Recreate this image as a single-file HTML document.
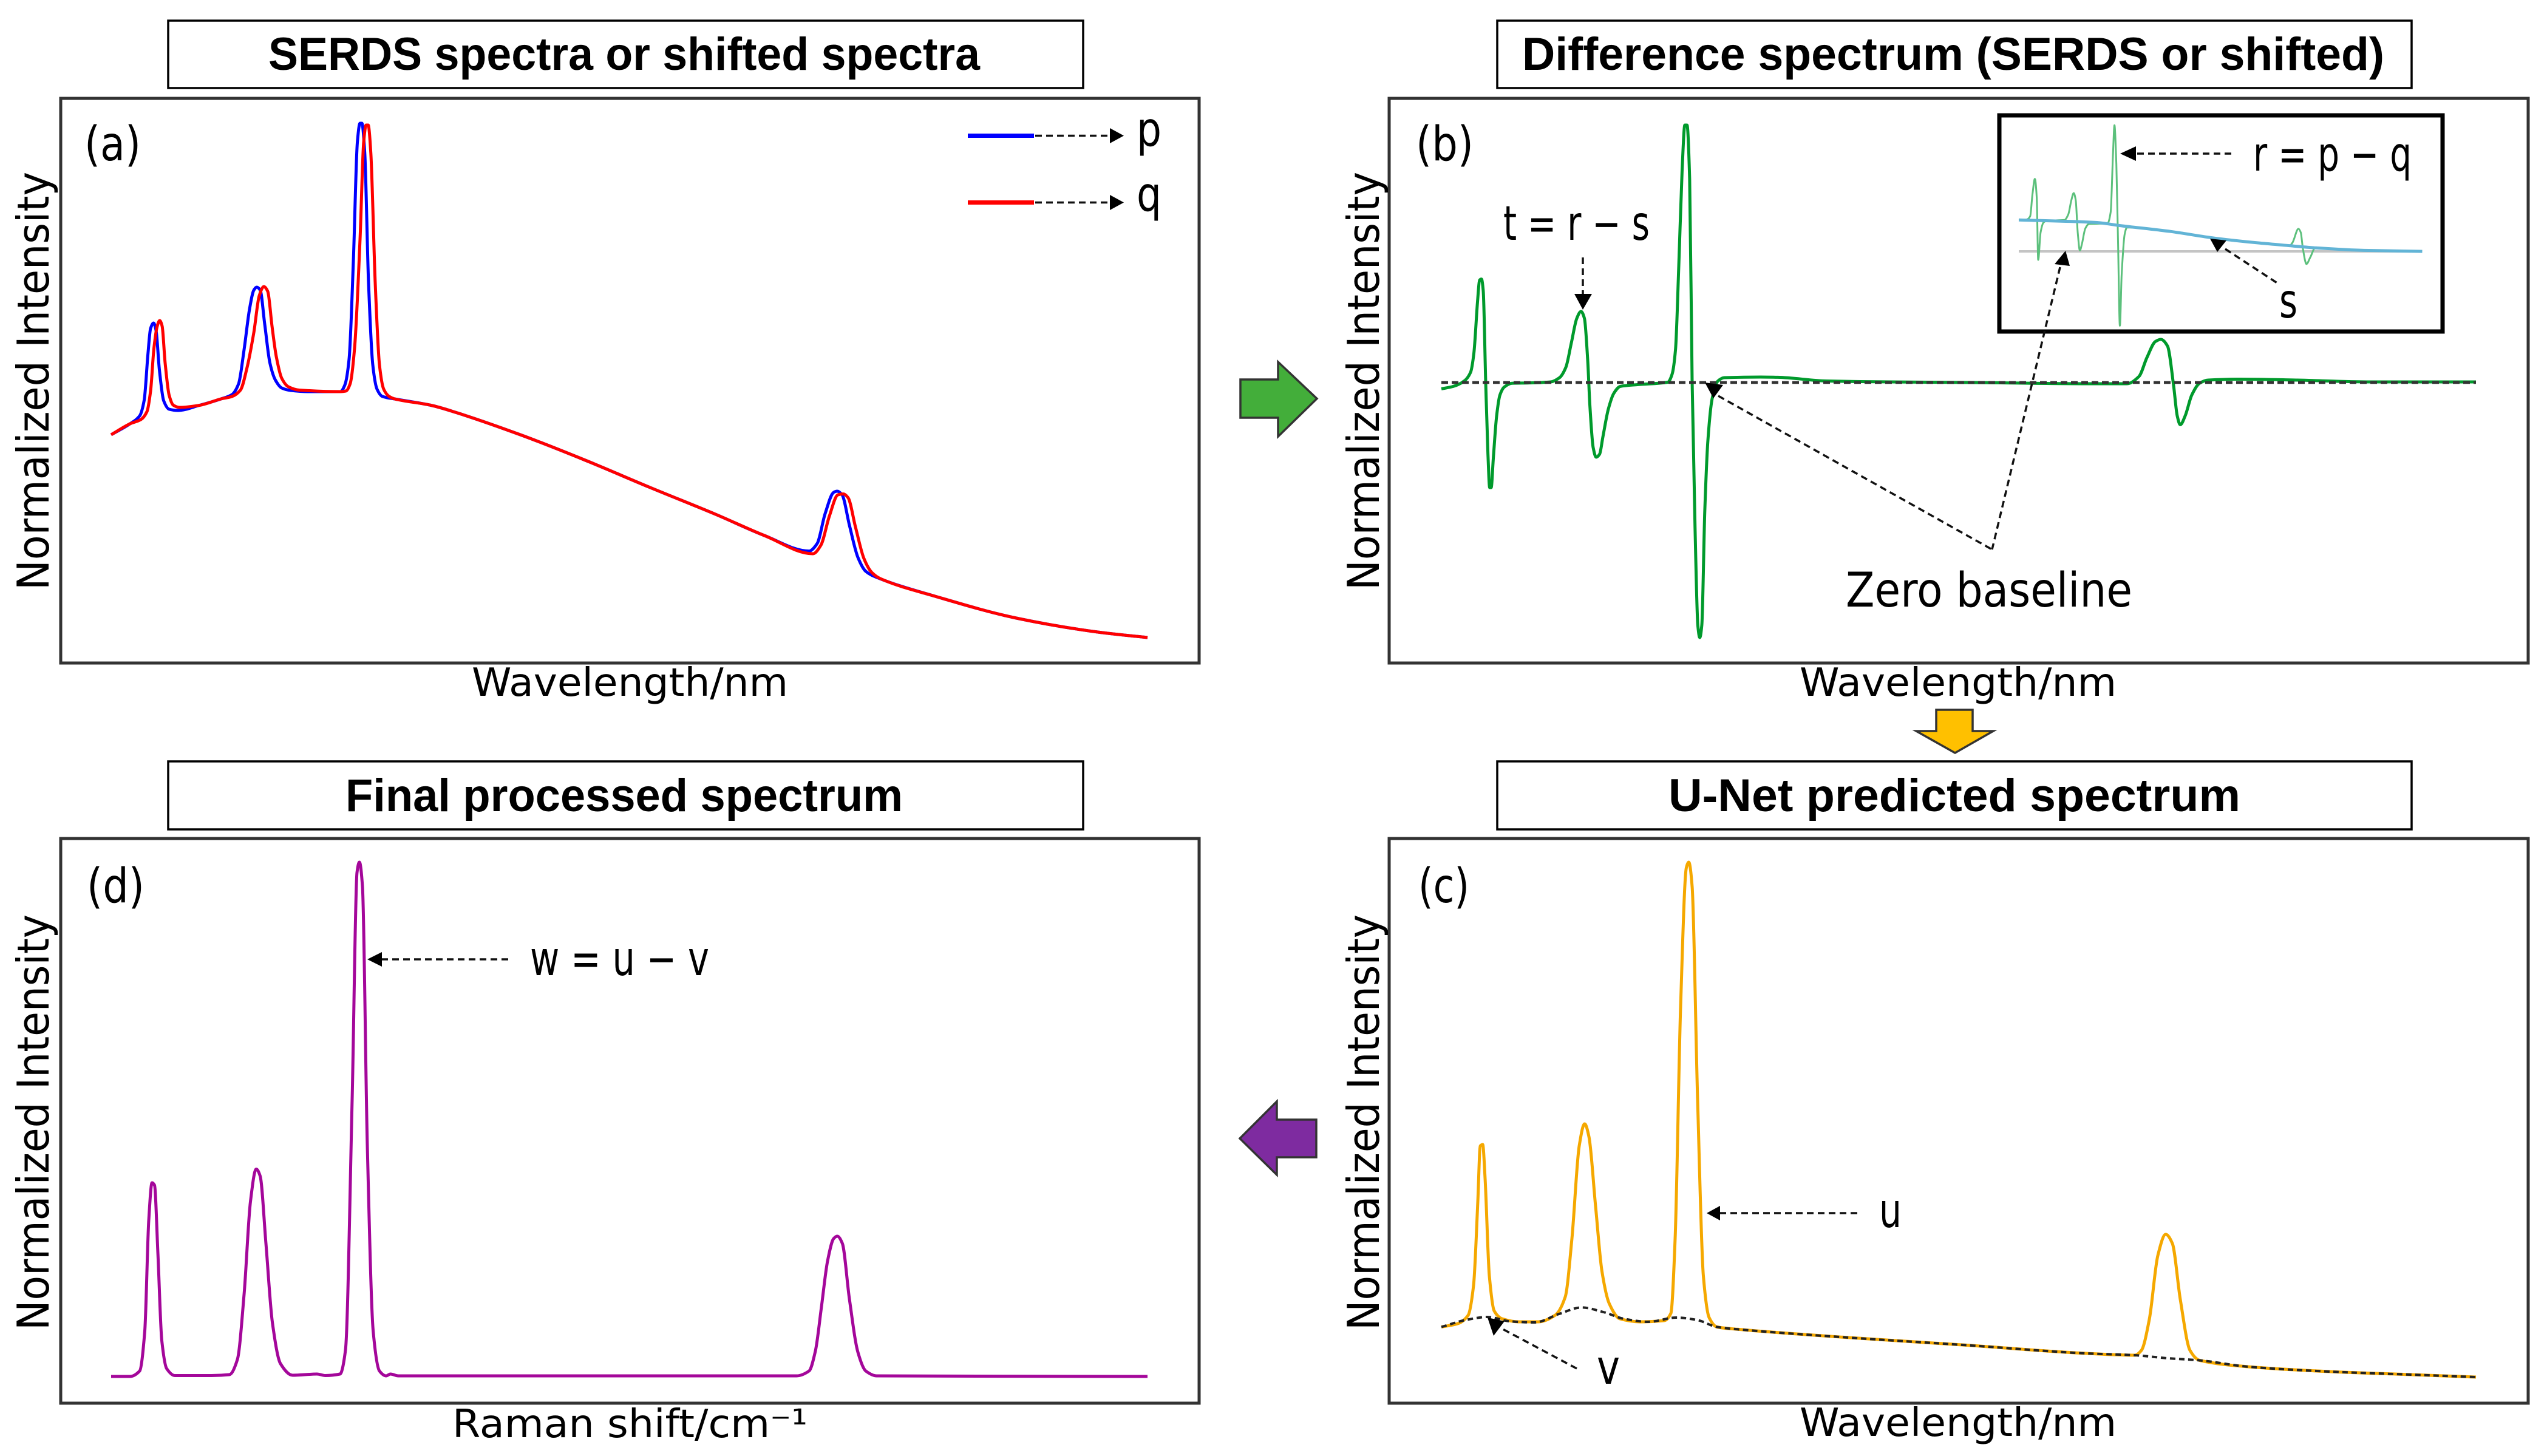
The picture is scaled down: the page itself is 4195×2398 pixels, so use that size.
<!DOCTYPE html>
<html lang="en">
<head>
<meta charset="utf-8">
<title>SERDS spectra processing pipeline</title>
<style>
html,body{margin:0;padding:0;background:#fff;}
svg{display:block;}
.title{font-family:"Liberation Sans",sans-serif;font-weight:700;font-size:76px;fill:#000;}
.lab{font-family:"DejaVu Sans","Liberation Sans",sans-serif;font-size:78px;fill:#000;}
.axis{font-family:"DejaVu Sans","Liberation Sans",sans-serif;font-size:64px;fill:#000;}
.ylab{font-family:"DejaVu Sans","Liberation Sans",sans-serif;font-size:72px;fill:#000;}
.dash{stroke:#111;stroke-width:3.5;stroke-dasharray:11 7;fill:none;}
.titlebox{fill:#fff;stroke:#000;stroke-width:3.5;}
.panel{fill:#fff;stroke:#333;stroke-width:5;}
</style>
</head>
<body>
<svg id="figure" xmlns="http://www.w3.org/2000/svg" width="4195" height="2398" viewBox="0 0 4195 2398">
  <rect x="0" y="0" width="4195" height="2398" fill="#fff"/>

  <!-- title boxes -->
  <rect class="titlebox" x="277" y="34" width="1507" height="111"/>
  <text class="title" x="442" y="115" textLength="1172" lengthAdjust="spacingAndGlyphs">SERDS spectra or shifted spectra</text>
  <rect class="titlebox" x="2466" y="34" width="1506" height="111"/>
  <text class="title" x="2507" y="115" textLength="1420" lengthAdjust="spacingAndGlyphs">Difference spectrum (SERDS or shifted)</text>
  <rect class="titlebox" x="277" y="1254" width="1507" height="112"/>
  <text class="title" x="569" y="1336" textLength="918" lengthAdjust="spacingAndGlyphs">Final processed spectrum</text>
  <rect class="titlebox" x="2466" y="1254" width="1506" height="112"/>
  <text class="title" x="2748" y="1336" textLength="942" lengthAdjust="spacingAndGlyphs">U-Net predicted spectrum</text>

  <!-- panel frames -->
  <rect class="panel" x="100" y="162" width="1875" height="930"/>
  <rect class="panel" x="2288" y="162" width="1876" height="930"/>
  <rect class="panel" x="100" y="1381" width="1875" height="930"/>
  <rect class="panel" x="2288" y="1381" width="1876" height="930"/>

  <!-- axis titles -->
  <text class="ylab" transform="translate(80,972) rotate(-90)" textLength="689" lengthAdjust="spacingAndGlyphs">Normalized Intensity</text>
  <text class="ylab" transform="translate(2271,972) rotate(-90)" textLength="689" lengthAdjust="spacingAndGlyphs">Normalized Intensity</text>
  <text class="ylab" transform="translate(80,2191) rotate(-90)" textLength="685" lengthAdjust="spacingAndGlyphs">Normalized Intensity</text>
  <text class="ylab" transform="translate(2271,2191) rotate(-90)" textLength="685" lengthAdjust="spacingAndGlyphs">Normalized Intensity</text>
  <text class="axis" x="777" y="1146" textLength="521" lengthAdjust="spacingAndGlyphs">Wavelength/nm</text>
  <text class="axis" x="2964" y="1146" textLength="522" lengthAdjust="spacingAndGlyphs">Wavelength/nm</text>
  <text class="axis" x="745" y="2367" textLength="585" lengthAdjust="spacingAndGlyphs">Raman shift/cm⁻¹</text>
  <text class="axis" x="2964" y="2365" textLength="522" lengthAdjust="spacingAndGlyphs">Wavelength/nm</text>

  <!-- panel letters -->
  <text class="lab" x="139" y="264" textLength="93" lengthAdjust="spacingAndGlyphs">(a)</text>
  <text class="lab" x="2332" y="264" textLength="95" lengthAdjust="spacingAndGlyphs">(b)</text>
  <text class="lab" x="143" y="1486" textLength="95" lengthAdjust="spacingAndGlyphs">(d)</text>
  <text class="lab" x="2336" y="1486" textLength="84" lengthAdjust="spacingAndGlyphs">(c)</text>

  <g id="marks-a"></g>
  <g id="marks-b"></g>
  <g id="marks-c"></g>
  <g id="marks-d"></g>

  <!-- panel a legend -->
  <line x1="1594" y1="223.5" x2="1703" y2="223.5" stroke="#0000ff" stroke-width="7"/>
  <line class="dash" x1="1705" y1="223.5" x2="1830" y2="223.5"/>
  <polygon points="1828,211 1851,223.5 1828,236" fill="#000"/>
  <text class="lab" x="1872" y="240" textLength="41" lengthAdjust="spacingAndGlyphs">p</text>
  <line x1="1594" y1="333.5" x2="1703" y2="333.5" stroke="#ff0000" stroke-width="7"/>
  <line class="dash" x1="1705" y1="333.5" x2="1830" y2="333.5"/>
  <polygon points="1828,321 1851,333.5 1828,346" fill="#000"/>
  <text class="lab" x="1872" y="347" textLength="41" lengthAdjust="spacingAndGlyphs">q</text>

  <!-- panel b annotations -->
  <text class="lab" x="2476" y="395" textLength="241" lengthAdjust="spacingAndGlyphs">t = r − s</text>
  <line class="dash" x1="2607" y1="424" x2="2607" y2="486"/>
  <polygon points="2593,484 2622,484 2607,510" fill="#000"/>
  <text class="lab" x="3040" y="999" textLength="472" lengthAdjust="spacingAndGlyphs">Zero baseline</text>
  <line class="dash" x1="2830" y1="652" x2="3281" y2="905"/>
  <polygon points="2808,630 2838,634 2822,656" fill="#000"/>

  <!-- inset -->
  <rect x="3293" y="190" width="730" height="356" fill="#fff" stroke="#000" stroke-width="7"/>
  <g id="marks-inset"></g>
  <text class="lab" x="3711" y="281" textLength="261" lengthAdjust="spacingAndGlyphs">r = p − q</text>
  <line class="dash" x1="3675" y1="253" x2="3516" y2="253"/>
  <polygon points="3492,253 3518,241 3518,265" fill="#000"/>
  <text class="lab" x="3754" y="523" textLength="30" lengthAdjust="spacingAndGlyphs">s</text>
  <line class="dash" x1="3665" y1="410" x2="3752" y2="467"/>
  <polygon points="3640,393 3667,396 3652,415" fill="#000"/>
  <line class="dash" x1="3393" y1="440" x2="3281" y2="905"/>
  <polygon points="3402,413 3384,435 3409,438" fill="#000"/>

  <!-- panel d annotations -->
  <text class="lab" x="873" y="1606" textLength="295" lengthAdjust="spacingAndGlyphs">w = u − v</text>
  <line class="dash" x1="837" y1="1580" x2="627" y2="1580"/>
  <polygon points="605,1580 629,1568 629,1592" fill="#000"/>

  <!-- panel c annotations -->
  <text class="lab" x="3095" y="2021" textLength="37" lengthAdjust="spacingAndGlyphs">u</text>
  <line class="dash" x1="3059" y1="1998" x2="2830" y2="1998"/>
  <polygon points="2811,1998 2833,1986 2833,2010" fill="#000"/>
  <text class="lab" x="2630" y="2279" textLength="38" lengthAdjust="spacingAndGlyphs">v</text>
  <line class="dash" x1="2597" y1="2254" x2="2462" y2="2182"/>
  <polygon points="2450,2170 2478,2176 2460,2200" fill="#000"/>

  <!-- flow arrows -->
  <polygon points="2043,625 2105,625 2105,596 2169,656.5 2105,719 2105,688 2043,688" fill="#43ae3a" stroke="#333" stroke-width="3.5"/>
  <polygon points="3189,1169 3249,1169 3249,1204 3283,1204 3220,1240 3156,1204 3189,1204" fill="#ffc000" stroke="#333" stroke-width="3.5"/>
  <polygon points="2168,1844 2103,1844 2103,1814 2042,1875 2103,1935 2103,1906 2168,1906" fill="#7e2ba0" stroke="#333" stroke-width="3.5"/>
</svg>

<script>
// Panel (a): spectra p and q (channel index vs. counts)
const pChannels = [0,31,47,54.5,60.6,65,70,74,79.5,86.6,95.6,110,145.6,181,199,210,219,228,235,240,245.6,253,261.6,270.6,281,295.6,324,377.7,385,392,399,405.6,410,413,417.7,424,431,438,447,467,527,567,674,781,888,995.5,1076,1149.5,1163,1176,1190,1196,1204,1216,1230,1243,1261,1357,1491,1625,1707];
const pCounts = [334,352,365,391,466,509,518,506,441,390,376,374,382.5,393,400,418,474,541,572,577,572,516,452,424,411,407,405,405,416,459,620,816,847,847,799,584,449,409,397,393,382.5,371,334,292,247,203,168,142.4,155,204,239,241,235,185,132,109,99,68,32,9,0];
const qChannels = [0,31,49,59,65,70.6,76,80,84,89,95.6,102.7,113,145.6,181,199,213,224,235,244,251.6,258,265,272,281,292,310,377.7,386.6,393.7,401,410,416,420,423.4,427.7,435,442,449,458,467,527,567,674,781,888,995.5,1076,1156,1169,1183,1197,1206,1214,1226,1240,1253,1267,1357,1491,1625,1707];
const qCounts = [334,352,359,372,406,477,513,522,513,452,399,382.5,379,382.5,393,397,407.5,445,502,563,578,570,513,463,427,413,407.5,405,406,418,477,656,816,844,844,799,584,449,409,397,393,382.5,371,334,292,247,203,168,138,152,200,235,236.5,230,182,130,107,97,68,32,9,0];

// Panel (b): difference spectrum t with zero baseline
const tChannels = [0,19.6,37.4,48,53.5,59.6,63,66,68.9,73,76.7,79.6,82,85.6,91,96.4,103.5,116,144.6,180,194.6,205,214,223,230,235.6,241,244.6,250,255,260.6,266,275,284,294.6,323,373,380,385.6,391,396.4,401,404.6,408.9,413,417.8,422.4,425.6,428.9,433.9,439,446,455,466,526,554,634.6,741,875,1062,1129,1149,1162,1176,1185,1196,1206,1212,1217,1225,1236,1249,1263,1316,1410,1530,1704];
const tCounts = [-10.4,-6.4,2.3,16.6,48,134,168.7,170.4,151.5,0.5,-118,-173,-173,-124,-55,-20.7,-7.5,-1.2,-0.6,1,8,25,65,105.6,117,105.6,36.7,-38,-107,-123,-118,-89.6,-43.7,-17.8,-6.4,-3.5,0.5,13.7,54,191.7,346.7,424,424,335,2,-239,-400,-420,-400,-210,-95,-26.5,2,8,9,8.6,2.5,1,0,-2,-2,10,41,67.5,71,60,-5,-55,-69.5,-55,-20.5,-1,4,5.5,4,1,1];
const zeroChannels = [0,1704];
const zeroCounts = [0,0];

// Inset of panel (b): raw difference r and estimated baseline s
const rChannels = [0,35,48,58,68,76,82,92,104.5,117,193,209,222,232,240.5,249,258,266,281,297,375,388,398,404,412,419.4,427,434.5,447,457,640,829,1018,1143.5,1156,1181,1191,1200,1215,1232,1251,1458,1704];
const rCounts = [132.5,135,148,242,306,225,-36,79.5,122,129,132.5,156,216,246,216,79.5,4,28,96.6,116,118,165,413,532.5,370,28,-313.7,-100,71,101,84,55.6,35,24,36.8,95,79.5,11,-53,-23,13,4,0];
const sChannels = [0,325,426,640,829,1018,1143.5,1257,1458,1704];
const sCounts = [132.5,122,109,84,55.6,35,24,14.5,4,0];

// Panel (c): U-Net prediction u and predicted background v
const uChannels = [0,27,44,53,60,64,68,72,79,87,100,127,160,187,204,215,227,236,243,254,264.5,276.5,294,327,367,378,385,394,403.5,407.5,413,422,431.5,441,454,487.6,661,862,1062,1142,1153,1166,1180,1193,1204,1217,1233,1249,1329,1463,1597,1704];
const uCounts = [82.5,88,101.6,151,289,380.5,383,327,166.6,109,96,91,91,101.6,132,228,380.5,417,396,281,174,121,96,91,93,105,228,610,839,848,808,457,166.6,98,82.5,78.7,65.7,52.7,39,36,44,95,200,235,220,128,44,27.5,17,9,4,0];
const vChannels = [0,40,76,113.5,153.6,194,231,267,300.6,341,387,421,454,487.6,661,862,1062,1142,1196,1249,1329,1463,1597,1704];
const vCounts = [82.5,94,99,91.7,90,104,114.6,107,96,91,98,94,82.5,78.7,65.7,52.7,39,36,31,27.5,17,9,4,0];

// Panel (d): final spectrum w
const wChannels = [0,31,47,55.4,62,67.4,71.5,77,83.5,91.5,105,165,194.7,208,219,229.5,239,245.5,255,265.6,279,299,339,353,377,386,397,405,409,414,422,431.7,442,453,460,473,1129,1149.5,1160,1170,1180,1190,1196,1204.4,1216,1230,1243,1261,1707];
const wCounts = [0,0,9,74,257,319,315,204,59,13,1.5,1.5,3,28,135,288,341.5,330,219,89,21,2,4,1.5,4,43.5,456,830,847,807,380,74,9,1,4,1,1,9,42,115,190,227,231,219,127.6,40,9,1,0];

function linearScale(d0, d1, r0, r1) {
  return function (v) { return r0 + (v - d0) * (r1 - r0) / (d1 - d0); };
}

const xA = linearScale(0, 1707, 183, 1890);
const yA = linearScale(0, 847, 1050, 203);
const xB = linearScale(0, 1707, 2374, 4081);
const yB = linearScale(-420, 424, 1050, 206);
const xC = linearScale(0, 1707, 2374, 4081);
const yC = linearScale(0, 848, 2268, 1420);
const xD = linearScale(0, 1707, 183, 1890);
const yD = linearScale(0, 847, 2267, 1420);
const xI = linearScale(0, 1707, 3325, 3990.7);
const yI = linearScale(0, 532.5, 414, 206.3);

function smoothPath(xs, ys, sx, sy) {
  const px = xs.map(sx);
  const py = ys.map(sy);
  const n = px.length;
  const d = [];
  for (let i = 0; i < n - 1; i++) {
    d.push((py[i + 1] - py[i]) / (px[i + 1] - px[i]));
  }
  const m = [d[0]];
  for (let i = 1; i < n - 1; i++) {
    m.push(d[i - 1] * d[i] <= 0 ? 0 : 2 * d[i - 1] * d[i] / (d[i - 1] + d[i]));
  }
  m.push(d[n - 2]);
  let out = 'M' + px[0].toFixed(1) + ' ' + py[0].toFixed(1);
  for (let i = 0; i < n - 1; i++) {
    const h = (px[i + 1] - px[i]) / 3;
    out += 'C' + (px[i] + h).toFixed(1) + ' ' + (py[i] + m[i] * h).toFixed(1) + ' ' +
      (px[i + 1] - h).toFixed(1) + ' ' + (py[i + 1] - m[i + 1] * h).toFixed(1) + ' ' +
      px[i + 1].toFixed(1) + ' ' + py[i + 1].toFixed(1);
  }
  return out;
}

function addLine(groupId, xs, ys, sx, sy, color, width, dash) {
  const el = document.createElementNS('http://www.w3.org/2000/svg', 'path');
  el.setAttribute('d', smoothPath(xs, ys, sx, sy));
  el.setAttribute('fill', 'none');
  el.setAttribute('stroke', color);
  el.setAttribute('stroke-width', width);
  el.setAttribute('stroke-linejoin', 'round');
  if (dash) el.setAttribute('stroke-dasharray', dash);
  document.getElementById(groupId).appendChild(el);
  return el;
}

let mark;
mark = addLine('marks-a', pChannels, pCounts, xA, yA, '#0000ff', 5);


mark = addLine('marks-a', qChannels, qCounts, xA, yA, '#ff0000', 5);



mark = addLine('marks-b', tChannels, tCounts, xB, yB, '#009a2c', 5);


mark = addLine('marks-b', zeroChannels, zeroCounts, xB, yB, '#333333', 4.5, '11 6');



mark = addLine('marks-inset', zeroChannels, zeroCounts, xI, yI, '#c4c4c4', 4);


mark = addLine('marks-inset', rChannels, rCounts, xI, yI, '#5cc07c', 3);


mark = addLine('marks-inset', sChannels, sCounts, xI, yI, '#62b4d6', 5);



mark = addLine('marks-c', uChannels, uCounts, xC, yC, '#f5a800', 5);


mark = addLine('marks-c', vChannels, vCounts, xC, yC, '#222222', 4, '9 6');



mark = addLine('marks-d', wChannels, wCounts, xD, yD, '#a4079a', 5);


</script>
</body>
</html>
